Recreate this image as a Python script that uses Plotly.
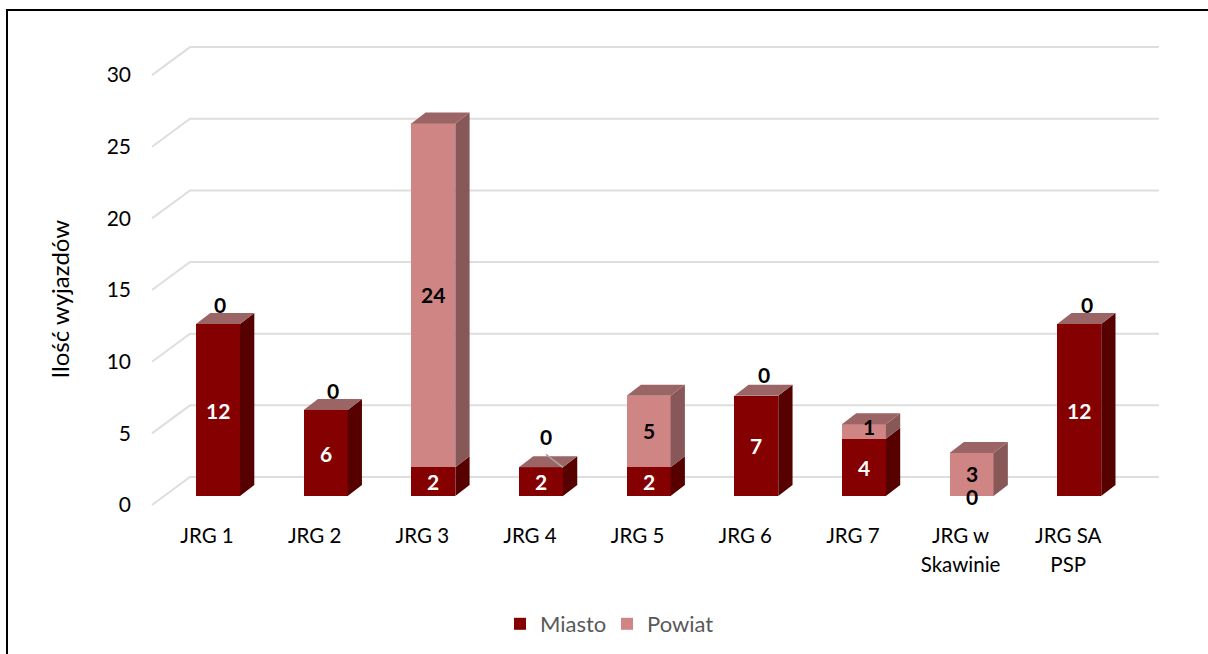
import plotly.graph_objects as go

categories = ["JRG 1", "JRG 2", "JRG 3", "JRG 4", "JRG 5", "JRG 6", "JRG 7", "JRG w<br>Skawinie", "JRG SA<br>PSP"]
miasto = [12, 6, 2, 2, 2, 7, 4, 0, 12]
powiat = [0, 0, 24, 0, 5, 0, 1, 3, 0]
y_ticks = [0, 5, 10, 15, 20, 25, 30]

W, H = 1208, 654
X0, X_STEP = 218.0, 107.65
Y0, Y_STEP = 496.0, 14.33
BAR_W = 44 / X_STEP
DX, DY = 14.3 / X_STEP, 11 / Y_STEP

MIASTO_F, MIASTO_S = "#850000", "#560000"
POWIAT_F, POWIAT_S, TOP = "#D08585", "#885757", "#9C6565"

x_idx = list(range(len(categories)))
fig = go.Figure()

fig.add_bar(x=x_idx, y=miasto, name="Miasto", width=BAR_W, marker=dict(color=MIASTO_F, line_width=0), hoverinfo="skip")
fig.add_bar(x=x_idx, y=powiat, name="Powiat", width=BAR_W, marker=dict(color=POWIAT_F, line_width=0), hoverinfo="skip")


def side_faces(lows, highs):
    xs, ys = [], []
    for i, (lo, hi) in enumerate(zip(lows, highs)):
        if hi <= lo:
            continue
        r = i + BAR_W / 2
        xs += [r, r + DX, r + DX, r, r, None]
        ys += [lo, lo + DY, hi + DY, hi, lo, None]
    return xs, ys


totals = [m + p for m, p in zip(miasto, powiat)]
for lows, highs, col in [([0] * len(miasto), miasto, MIASTO_S), (miasto, totals, POWIAT_S)]:
    sx, sy = side_faces(lows, highs)
    fig.add_scatter(x=sx, y=sy, mode="lines", fill="toself", fillcolor=col, line=dict(width=0, color=col),
                    showlegend=False, hoverinfo="skip")

tx, ty = [], []
for i, t in enumerate(totals):
    l, r = i - BAR_W / 2, i + BAR_W / 2
    tx += [l, l + DX, r + DX, r, l, None]
    ty += [t, t + DY, t + DY, t, t, None]
fig.add_scatter(x=tx, y=ty, mode="lines", fill="toself", fillcolor=TOP, line=dict(width=0, color=TOP),
                showlegend=False, hoverinfo="skip")

# leader line of the JRG 4 zero label
j4 = categories.index("JRG 4")
fig.add_scatter(x=[j4 + 5 / X_STEP, j4 + BAR_W / 2], y=[totals[j4] + 13 / Y_STEP, totals[j4]], mode="lines",
                line=dict(color="#A6A6A6", width=1.5), showlegend=False, hoverinfo="skip")

# walls: gridlines run from the front of the floor to the back wall and across it
GL = (152 - X0) / X_STEP
GB = (190 - X0) / X_STEP
GR = (1159 - X0) / X_STEP
FRONT = -9 / Y_STEP
BACK = 19 / Y_STEP
shapes = []
for v in y_ticks:
    shapes.append(dict(type="path", xref="x", yref="y", layer="below",
                       path=f"M {GL} {v + FRONT} L {GB} {v + BACK} L {GR} {v + BACK}",
                       line=dict(color="#DEDEDE", width=2)))
shapes.append(dict(type="path", xref="paper", yref="paper", layer="above",
                   path=f"M {7/W} 0 L {7/W} {1 - 10/H} L 1 {1 - 10/H}",
                   line=dict(color="black", width=2)))

# data labels: bar value at the mid-height of its segment
annots = []
BOLD = dict(family="Lato", size=21, weight=700)


def lab(x, y, val, color, xs=0, ys=0):
    annots.append(dict(x=x, y=y, xref="x", yref="y", text=str(val), showarrow=False, xanchor="center",
                       yanchor="middle", xshift=xs, yshift=ys + 2, font=dict(BOLD, color=color)))


zero_nudge = {0: (2, 18), 1: (7, 18), 3: (5, 29), 5: (8, 19), 8: (8, 18)}
for i, (m, p) in enumerate(zip(miasto, powiat)):
    if m:
        lab(i, m / 2, m, "white", 0, -2)
    else:
        lab(i, 0, m, "black", 0, -2)
    if p:
        lab(i, m + p / 2, p, "black", 5 if p == 1 else 0, 3 if p == 1 else -1)
    else:
        xs, ys = zero_nudge[i]
        lab(i, m, p, "black", xs, ys)

annots.append(dict(text="Ilość wyjazdów", x=58.5 / W, y=1 - 299 / H, xref="paper", yref="paper", showarrow=False,
                   textangle=-90, xanchor="center", yanchor="middle", font=dict(family="Lato", size=24, color="black")))

span = '<span style="font-size:20.5px">'
tick_text = [span + c.replace("<br>", "</span><br>" + span) + "</span>" for c in categories]

fig.update_layout(
    width=W, height=H, margin=dict(l=0, r=0, t=0, b=0), barmode="stack", bargap=0,
    paper_bgcolor="white", plot_bgcolor="white", shapes=shapes, annotations=annots,
    font=dict(family="Lato", color="black"),
    legend=dict(orientation="h", x=500 / W, xanchor="left", y=1 - 624 / H, yanchor="middle",
                font=dict(family="Lato", size=22, color="#595959"), entrywidth=62, entrywidthmode="pixels",
                bgcolor="rgba(0,0,0,0)", traceorder="normal"),
    xaxis=dict(range=[-X0 / X_STEP, (W - X0) / X_STEP], tickmode="array", tickvals=x_idx,
               ticktext=tick_text,
               tickfont=dict(family="Lato", size=22, color="black"), anchor="free", position=1 - Y0 / H,
               showgrid=False, zeroline=False, showline=False, ticks="", ticklabelshift=-11, ticklabelstandoff=24),
    yaxis=dict(range=[(Y0 - H) / Y_STEP, Y0 / Y_STEP], tickmode="array", tickvals=y_ticks,
               tickfont=dict(family="Lato", size=21, color="black"), anchor="free", position=131 / W,
               showgrid=False, zeroline=False, showline=False, ticks="", ticklabelshift=9, ticklabelstandoff=0),
)
fig.write_html("out.html", post_script="document.body.style.margin='0';", config={"displayModeBar": False})
